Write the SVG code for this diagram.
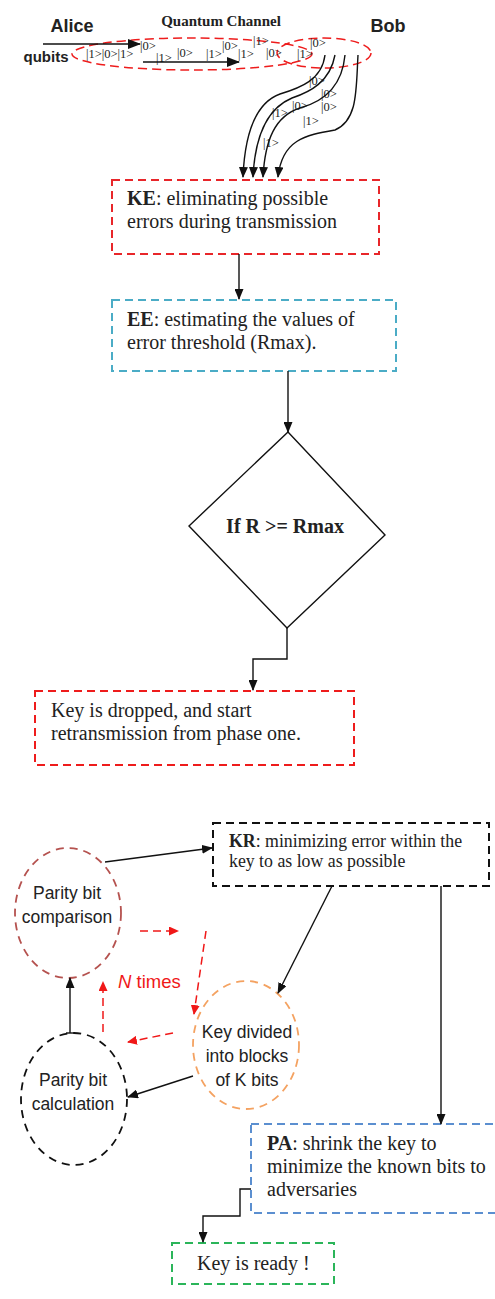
<svg xmlns="http://www.w3.org/2000/svg" width="495" height="1299" viewBox="0 0 495 1299">
<style>
.serif{font-family:"Liberation Serif","Times New Roman",serif;fill:#222}
.sans{font-family:"Liberation Sans",Arial,sans-serif;fill:#222}
.q{font-family:"Liberation Serif","Times New Roman",serif;font-size:12.5px;fill:#222}
.body{font-size:20px}
.conn{fill:none;stroke:#111;stroke-width:1.4}
.rconn{fill:none;stroke:#f01818;stroke-width:1.5;stroke-dasharray:8,5}
.box{fill:none;stroke-width:2;stroke-dasharray:8,5}
.node-c{fill:none;stroke-width:1.8;stroke-dasharray:8,6}
.red{fill:#f01818}
</style>
<defs>
<marker id="ah" markerUnits="userSpaceOnUse" markerWidth="11" markerHeight="9" refX="10" refY="4.5" orient="auto"><path d="M0,0 L11,4.5 L0,9 z" fill="#111"/></marker>
<marker id="ahbig" markerUnits="userSpaceOnUse" markerWidth="13" markerHeight="10" refX="12" refY="5" orient="auto"><path d="M0,0 L13,5 L0,10 z" fill="#111"/></marker>
<marker id="ahr" markerUnits="userSpaceOnUse" markerWidth="10" markerHeight="9" refX="9" refY="4.5" orient="auto"><path d="M0,0 L10,4.5 L0,9 z" fill="#f01818"/></marker>
</defs>

<g id="channel">
<text class="sans" x="72" y="32" font-size="18" font-weight="bold" text-anchor="middle">Alice</text>
<text class="sans" x="388" y="32" font-size="18" font-weight="bold" text-anchor="middle">Bob</text>
<text class="sans" x="46" y="62" font-size="15" font-weight="bold" text-anchor="middle">qubits</text>
<text class="serif" x="221" y="26" font-size="15" font-weight="bold" text-anchor="middle">Quantum Channel</text>
<ellipse cx="192" cy="54" rx="120" ry="16" fill="none" stroke="#ee1c1c" stroke-width="1.5" stroke-dasharray="9,5"/>
<ellipse cx="324" cy="53" rx="47" ry="15" fill="none" stroke="#ee1c1c" stroke-width="1.5" stroke-dasharray="9,5"/>
<text class="q" x="86" y="58">|1&gt;|0&gt;|1&gt;</text>
<text class="q" x="140" y="50">|0&gt;</text>
<text class="q" x="156" y="62">|1&gt;</text>
<text class="q" x="177" y="57">|0&gt;</text>
<text class="q" x="206" y="58">|1&gt;</text>
<text class="q" x="222" y="50">|0&gt;</text>
<text class="q" x="238" y="58">|1&gt;</text>
<text class="q" x="253" y="45">|1&gt;</text>
<text class="q" x="266" y="57">|0&gt;</text>
<text class="q" x="310" y="47">|0&gt;</text>
<text class="q" x="297" y="58">|1&gt;</text>
<text class="q" x="309" y="85">|0&gt;</text>
<text class="q" x="321" y="98">|0&gt;</text>
<text class="q" x="272" y="117">|1&gt;</text>
<text class="q" x="292" y="110">|0&gt;</text>
<text class="q" x="321" y="111">|0&gt;</text>
<text class="q" x="303" y="125">|1&gt;</text>
<text class="q" x="263" y="147">|1&gt;</text>
</g>

<g id="KE">
<rect x="112" y="180" width="267" height="74" class="box" stroke="#e8262a"/>
<text class="serif body" x="127" y="205"><tspan font-weight="bold">KE</tspan>: eliminating possible</text>
<text class="serif body" x="127" y="228">errors during transmission</text>
</g>

<g id="EE">
<rect x="112" y="300" width="284" height="71" class="box" stroke="#4bacc6" stroke-width="1.6"/>
<text class="serif body" x="127" y="326"><tspan font-weight="bold">EE</tspan>: estimating the values of</text>
<text class="serif body" x="127" y="349">error threshold (Rmax).</text>
</g>

<g id="decision">
<path d="M288,432 L385,535 L287,628 L189,526 Z" fill="none" stroke="#111" stroke-width="1.4"/>
<text class="serif" x="285" y="533" font-size="20" font-weight="bold" text-anchor="middle">If R &gt;= Rmax</text>
</g>

<g id="dropped">
<rect x="35" y="691" width="319" height="74" class="box" stroke="#ee1c1c"/>
<text class="serif body" x="51" y="717">Key is dropped, and start</text>
<text class="serif body" x="51" y="740">retransmission from phase one.</text>
</g>

<g id="KR">
<rect x="213" y="823" width="276" height="63" class="box" stroke="#111"/>
<text class="serif" x="229" y="847" font-size="17.8"><tspan font-weight="bold">KR</tspan>: minimizing error within the</text>
<text class="serif" x="229" y="867" font-size="17.8">key to as low as possible</text>
</g>

<g id="comparison">
<ellipse cx="68" cy="913" rx="53" ry="65" class="node-c" stroke="#b5524f"/>
<text class="sans" x="67" y="899" font-size="17.5" text-anchor="middle">Parity bit</text>
<text class="sans" x="67" y="923" font-size="17.5" text-anchor="middle">comparison</text>
</g>

<g id="divided">
<ellipse cx="246" cy="1045" rx="53" ry="64" class="node-c" stroke="#f4a261"/>
<text class="sans" x="247" y="1038" font-size="17.5" text-anchor="middle">Key divided</text>
<text class="sans" x="247" y="1062" font-size="17.5" text-anchor="middle">into blocks</text>
<text class="sans" x="247" y="1086" font-size="17.5" text-anchor="middle">of K bits</text>
</g>

<g id="calculation">
<ellipse cx="74" cy="1099" rx="53" ry="66" class="node-c" stroke="#111"/>
<text class="sans" x="73" y="1086" font-size="17.5" text-anchor="middle">Parity bit</text>
<text class="sans" x="73" y="1110" font-size="17.5" text-anchor="middle">calculation</text>
</g>

<g id="ntimes">
<text class="sans red" x="118" y="988" font-size="18.5"><tspan font-style="italic">N</tspan> times</text>
</g>

<g id="PA">
<rect x="251" y="1124" width="260" height="89" class="box" stroke="#5b8fd0" stroke-width="1.6"/>
<text class="serif body" x="267" y="1150"><tspan font-weight="bold">PA</tspan>: shrink the key to</text>
<text class="serif body" x="267" y="1173">minimize the known bits to</text>
<text class="serif body" x="267" y="1196">adversaries</text>
</g>

<g id="ready">
<rect x="172" y="1243" width="162" height="41" class="box" stroke="#2bb55a"/>
<text class="serif body" x="197" y="1270">Key is ready !</text>
</g>

<g id="connectors">
<line x1="43" y1="44" x2="140" y2="44" class="conn" stroke-width="1.6" marker-end="url(#ahbig)"/>
<line x1="143" y1="62" x2="239" y2="62" class="conn" stroke-width="1.6" marker-end="url(#ahbig)"/>
<path d="M325,55 C322,80 300,88 280,94 C258,102 245,130 243,177" class="conn" marker-end="url(#ah)"/>
<path d="M335,55 C330,82 310,92 292,98 C268,108 255,135 253,177" class="conn" marker-end="url(#ah)"/>
<path d="M345,55 C342,88 322,102 300,108 C275,116 265,140 263,177" class="conn" marker-end="url(#ah)"/>
<path d="M358,55 C356,90 358,120 335,130 C305,135 282,140 278,177" class="conn" marker-end="url(#ah)"/>
<line x1="239" y1="254" x2="239" y2="299" class="conn" marker-end="url(#ah)"/>
<line x1="288" y1="371" x2="288" y2="432" class="conn" marker-end="url(#ah)"/>
<polyline points="287,628 287,659 253,659 253,690" class="conn" marker-end="url(#ah)"/>
<line x1="105" y1="862" x2="212" y2="848" class="conn" marker-end="url(#ah)"/>
<line x1="332" y1="886" x2="278" y2="993" class="conn" marker-end="url(#ah)"/>
<line x1="441" y1="886" x2="441" y2="1124" class="conn" marker-end="url(#ah)"/>
<line x1="193" y1="1076" x2="128" y2="1097" class="conn" marker-end="url(#ah)"/>
<line x1="70" y1="1033" x2="70" y2="978" class="conn" marker-end="url(#ah)"/>
<line x1="66" y1="1033" x2="74" y2="1033" class="conn"/>
<polyline points="251,1189 240,1189 240,1216 203,1216 203,1242" class="conn" marker-end="url(#ah)"/>
<line x1="140" y1="931" x2="178" y2="931" class="rconn" marker-end="url(#ahr)"/>
<line x1="206" y1="931" x2="194" y2="1014" class="rconn" marker-end="url(#ahr)"/>
<line x1="103" y1="1032" x2="103" y2="982" class="rconn" marker-end="url(#ahr)"/>
<line x1="173" y1="1033" x2="128" y2="1042" class="rconn" marker-end="url(#ahr)"/>
</g>
</svg>
